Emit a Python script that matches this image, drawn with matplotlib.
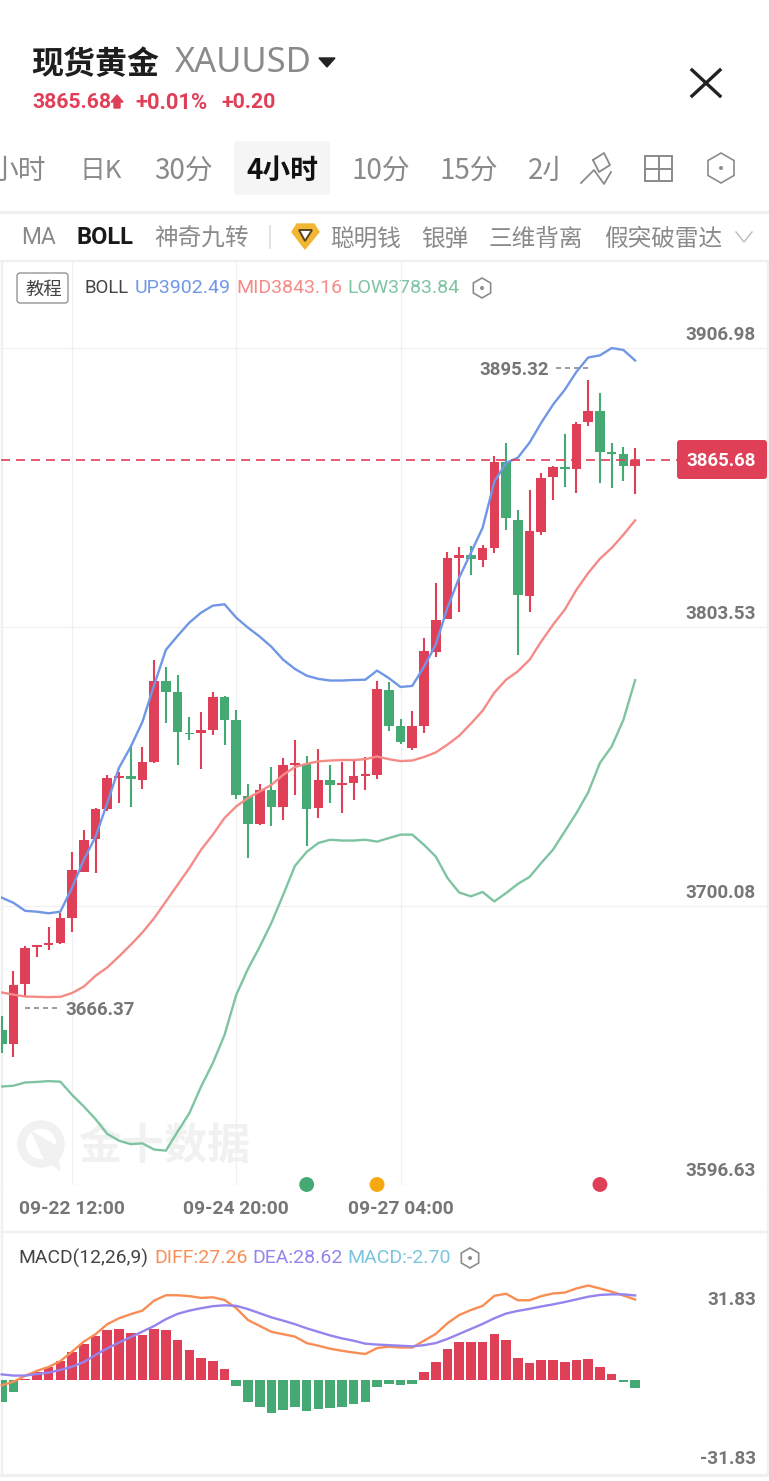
import matplotlib
matplotlib.use('Agg')
import matplotlib.pyplot as plt
from matplotlib.patches import Circle, FancyBboxPatch, Polygon, Rectangle, Wedge
from matplotlib.transforms import Bbox
import numpy as np

highs = [3659.3, 3676.0, 3685.2, 3685.6, 3692.2, 3697.4, 3720.0, 3728.4, 3736.4, 3748.8, 3749.6,
         3759.2, 3758.9, 3791.2, 3788.6, 3785.8, 3770.1, 3771.9, 3779.3, 3777.8, 3772.9, 3745.4,
         3745.4, 3751.6, 3755.0, 3761.7, 3755.8, 3758.3, 3752.3, 3753.3, 3753.9, 3755.3, 3783.7,
         3783.1, 3769.5, 3772.5, 3799.5, 3819.9, 3831.5, 3833.3, 3833.5, 3834.1, 3867.1, 3871.7,
         3847.1, 3854.5, 3860.7, 3863.2, 3875.3, 3879.7, 3895.32, 3890.6, 3872.0, 3870.4, 3870.0]
lows = [3645.5, 3643.9, 3666.37, 3681.0, 3683.8, 3685.9, 3690.2, 3712.6, 3712.4, 3735.3, 3738.4,
        3736.8, 3743.4, 3753.2, 3767.9, 3752.2, 3761.7, 3750.8, 3763.3, 3759.9, 3739.8, 3717.7,
        3730.1, 3729.8, 3731.9, 3741.3, 3722.4, 3732.5, 3738.2, 3734.7, 3739.3, 3743.2, 3747.2,
        3764.8, 3760.2, 3757.9, 3764.1, 3792.6, 3806.5, 3809.3, 3822.7, 3825.7, 3831.2, 3839.7,
        3793.3, 3809.1, 3837.9, 3850.8, 3855.7, 3853.4, 3878.0, 3857.2, 3855.2, 3857.6, 3852.9]
opens = [3654.1, 3648.8, 3671.0, 3684.8, 3685.7, 3686.2, 3695.5, 3712.8, 3724.9, 3736.1, 3747.7,
         3748.1, 3746.9, 3753.6, 3783.7, 3779.4, 3764.4, 3764.3, 3765.4, 3777.6, 3769.0, 3741.0,
         3730.3, 3743.2, 3736.8, 3752.3, 3752.6, 3736.4, 3746.8, 3744.9, 3745.7, 3748.2, 3748.8,
         3780.3, 3766.7, 3758.6, 3767.0, 3794.4, 3806.7, 3829.0, 3830.4, 3828.6, 3833.0, 3864.7,
         3843.1, 3815.2, 3838.8, 3859.1, 3862.9, 3862.2, 3879.5, 3883.7, 3868.3, 3867.8, 3863.5]
closes = [3648.9, 3670.8, 3684.5, 3685.3, 3686.3, 3695.5, 3713.3, 3724.6, 3736.1, 3747.7, 3748.2,
          3747.0, 3753.4, 3783.6, 3779.4, 3764.6, 3763.7, 3765.4, 3777.4, 3769.1, 3741.2, 3730.3,
          3743.2, 3736.8, 3752.3, 3753.1, 3736.1, 3746.6, 3745.0, 3745.6, 3748.1, 3748.8, 3780.4,
          3766.9, 3760.7, 3766.9, 3794.5, 3806.3, 3829.0, 3830.4, 3828.9, 3832.9, 3864.8, 3844.0,
          3815.4, 3839.2, 3859.0, 3863.1, 3862.2, 3879.1, 3883.7, 3868.5, 3867.8, 3863.5, 3865.68]

boll_up = [3703.1, 3701.2, 3698.2, 3697.9, 3697.3, 3697.9, 3706.8, 3717.2, 3725.7, 3738.3, 3751.3,
           3759.1, 3768.4, 3782.1, 3795.1, 3800.3, 3805.2, 3808.9, 3811.5, 3812.0, 3807.0, 3803.3,
           3800.0, 3796.2, 3791.4, 3788.0, 3785.5, 3784.3, 3783.7, 3783.7, 3783.9, 3784.0, 3787.4,
           3784.6, 3781.3, 3781.7, 3788.8, 3797.0, 3810.7, 3821.9, 3831.1, 3840.4, 3857.5, 3864.5,
           3866.4, 3872.0, 3879.4, 3886.1, 3891.6, 3898.3, 3903.6, 3904.4, 3907.1, 3906.4, 3902.49]
boll_mid = [3667.9, 3667.1, 3666.4, 3666.3, 3666.2, 3666.3, 3667.7, 3670.1, 3674.1, 3677.2, 3681.3,
            3685.6, 3690.2, 3695.5, 3701.7, 3707.9, 3714.1, 3720.9, 3726.5, 3732.7, 3737.0, 3740.1,
            3742.5, 3745.0, 3748.7, 3751.6, 3752.8, 3753.7, 3754.0, 3754.2, 3754.2, 3754.5, 3755.5,
            3754.5, 3753.8, 3754.0, 3755.3, 3757.0, 3759.9, 3763.2, 3767.7, 3772.5, 3779.2, 3784.0,
            3787.1, 3791.4, 3798.2, 3804.4, 3810.0, 3817.4, 3823.6, 3828.9, 3832.9, 3837.8, 3843.16]
boll_low = [3633.0, 3633.3, 3634.5, 3634.7, 3635.0, 3634.8, 3629.9, 3625.6, 3620.9, 3615.4, 3612.9,
            3611.6, 3611.9, 3609.6, 3609.2, 3616.3, 3623.1, 3633.0, 3641.7, 3652.2, 3667.1, 3676.7,
            3684.9, 3693.8, 3704.2, 3714.9, 3720.1, 3723.4, 3724.6, 3724.3, 3724.3, 3724.6, 3723.9,
            3725.2, 3726.5, 3726.5, 3722.7, 3718.4, 3710.4, 3705.0, 3703.6, 3705.2, 3701.7, 3704.8,
            3708.2, 3710.8, 3716.0, 3720.9, 3727.7, 3734.5, 3742.2, 3753.1, 3759.2, 3769.1, 3783.84]

macd_hist = [-7.6, -4.0, 0.3, 2.8, 4.4, 6.4, 9.6, 12.3, 14.8, 16.8, 17.2, 16.0, 15.1, 17.3, 16.9,
             13.6, 10.2, 7.5, 6.3, 3.8, -2.0, -7.5, -9.2, -11.1, -10.1, -9.2, -10.6, -9.9, -9.6,
             -9.0, -8.1, -7.3, -2.5, -1.5, -1.7, -1.2, 2.6, 6.1, 10.6, 12.8, 13.0, 12.7, 15.6, 13.6,
             7.5, 5.9, 6.7, 6.9, 6.1, 6.9, 7.2, 4.5, 2.0, -0.8, -2.7]
macd_diff = [-1.8, -0.6, 1.4, 3.1, 4.4, 6.4, 9.6, 13.0, 15.5, 18.9, 20.9, 22.3, 23.5, 26.9, 28.7,
             28.7, 28.4, 27.8, 28.0, 27.1, 24.3, 20.3, 18.3, 16.3, 15.5, 14.7, 12.5, 11.6, 10.6,
             9.9, 9.3, 8.8, 10.8, 11.3, 11.0, 11.0, 13.3, 15.6, 19.2, 22.0, 23.7, 25.1, 28.5, 29.2,
             27.0, 27.0, 28.4, 29.3, 29.6, 31.0, 32.0, 31.0, 29.9, 28.6, 27.26]
macd_dea = [1.9, 1.5, 1.5, 2.0, 2.5, 3.4, 4.5, 6.1, 8.5, 10.7, 12.7, 14.5, 16.4, 18.3, 20.6,
            22.4, 23.5, 24.3, 25.0, 25.3, 25.1, 24.0, 22.6, 21.2, 20.1, 18.9, 17.5, 16.3, 15.1,
            14.1, 13.3, 12.3, 12.0, 11.8, 11.6, 11.4, 11.8, 12.5, 13.9, 15.6, 17.3, 19.0, 20.9, 22.5,
            23.4, 24.1, 24.9, 25.6, 26.4, 27.3, 28.2, 28.8, 29.0, 29.0, 28.62]

price_ticks = [3906.98, 3803.53, 3700.08, 3596.63]
macd_ticks = [31.83, -31.83]
date_positions = [6, 20, 34]
date_labels = ['09-22 12:00', '09-24 20:00', '09-27 04:00']
signal_positions = [26, 32, 51]
last_price = 3865.68

RED = '#E03F58'
GREEN = '#45A974'
UP_BLUE = '#7097E6'
MID_RED = '#F58B87'
LOW_GREEN = '#7EC4A2'
DIFF_ORANGE = '#F98E55'
DEA_PURPLE = '#9584EE'
MACD_CYAN = '#79C5DE'
LINE_GREY = '#F0F0F0'
TEXT_GREY = '#8A8A8A'
AXIS_GREY = '#767676'
ROBOTO = ['Roboto', 'DejaVu Sans']
CJK = ['Noto Sans CJK SC', 'DejaVu Sans']

WIDTH, HEIGHT = 769, 1481
CANDLE_STEP = 11.73
CANDLE_ZERO = 1.7
PRICE_PER_PX = (price_ticks[0] - price_ticks[1])/278.7


def px_axes(fig, left, top, right, bottom, **kwargs):
    return fig.add_axes([left/WIDTH, 1 - bottom/HEIGHT, (right - left)/WIDTH, (bottom - top)/HEIGHT], **kwargs)


def px_to_index(x):
    return (x - CANDLE_ZERO)/CANDLE_STEP


def hexagon(ax, x, y, radius, color = '#8C8C8C'):
    angles = np.radians(np.arange(30, 390, 60))
    ax.add_patch(Polygon(np.column_stack([x + radius*np.cos(angles), y + radius*np.sin(angles)]),
                         closed = True, fill = False, edgecolor = color, linewidth = 1.2))
    ax.add_patch(Circle((x, y), 1.3, color = color))


fig = plt.figure(figsize = (WIDTH/100, HEIGHT/100), dpi = 100, facecolor = 'white')

# page furniture, in image pixels
ui = px_axes(fig, 0, 0, WIDTH, HEIGHT)
ui.set_xlim(0, WIDTH)
ui.set_ylim(HEIGHT, 0)
ui.axis('off')


def label(x, y, text, size, color, family = CJK, weight = 'normal', ha = 'left', **kwargs):
    return ui.text(x, y, text, fontsize = size, color = color, family = family, fontweight = weight,
                   ha = ha, va = 'center', **kwargs)


label(31, 65, '现货黄金', 23, '#1E1E1E', weight = 'bold')
label(175, 63, 'XAUUSD', 24.8, TEXT_GREY, family = ['Noto Sans', 'DejaVu Sans'])
ui.add_patch(Polygon([(319, 58), (335, 58), (327, 67)], closed = True, color = '#222222'))
label(32, 103, '3865.68', 15.3, RED, family = ROBOTO, weight = 'bold')
ui.add_patch(Polygon([(117, 95), (123, 102), (120, 102), (120, 108), (114, 108), (114, 102), (111, 102)],
                     closed = True, color = RED))
label(135, 103, '+0.01%', 15.8, RED, family = ROBOTO, weight = 'bold')
label(221, 103, '+0.20', 15.3, RED, family = ROBOTO, weight = 'bold')
ui.plot([692, 720], [70, 96], color = '#222222', linewidth = 2.4)
ui.plot([720, 692], [70, 96], color = '#222222', linewidth = 2.4)

ui.add_patch(FancyBboxPatch((236, 143), 92, 50, boxstyle = 'round,pad=2,rounding_size=4',
                            facecolor = '#F5F5F5', edgecolor = 'none'))
label(-10, 171, '小时', 20, TEXT_GREY)
label(79, 171, '日K', 18.5, TEXT_GREY)
label(154, 171, '30分', 20, TEXT_GREY)
label(246, 171, '4小时', 20, '#111111', weight = 'bold')
label(351, 171, '10分', 20, TEXT_GREY)
label(440, 171, '15分', 20, TEXT_GREY)
tab_clipped = label(528, 171, '2小时', 20, TEXT_GREY)
tab_clipped.set_clip_box(Bbox.from_extents(520, 0, 558, HEIGHT))
tab_clipped.set_clip_on(True)

ui.plot([593, 604, 610, 599, 593], [160, 153, 165, 172, 160], color = TEXT_GREY, linewidth = 1.3)
ui.plot([581, 594, 604, 611], [183, 170, 184, 172], color = TEXT_GREY, linewidth = 1.3)
ui.add_patch(Rectangle((645, 156), 27, 25, fill = False, edgecolor = TEXT_GREY, linewidth = 1.4))
ui.plot([658.5, 658.5], [156, 181], color = TEXT_GREY, linewidth = 1.4)
ui.plot([645, 672], [168.5, 168.5], color = TEXT_GREY, linewidth = 1.4)
hexagon(ui, 721, 168, 15)

ui.add_patch(Rectangle((0, 211), WIDTH, 2, color = LINE_GREY))
label(21, 237, 'MA', 16.4, TEXT_GREY, family = ROBOTO)
label(77, 237, 'BOLL', 17, '#1A1A1A', family = ROBOTO, weight = 'bold')
label(154, 239, '神奇九转', 17, TEXT_GREY)
ui.plot([270, 270], [226, 248], color = '#DDDDDD', linewidth = 1.2)
ui.add_patch(Polygon([(297, 224), (314, 224), (319, 232), (305, 249), (292, 232)], closed = True, color = '#F2B632'))
ui.add_patch(Polygon([(299, 230), (312, 230), (305, 241)], closed = True, facecolor = 'white',
                     edgecolor = '#5A4520', linewidth = 1.4))
label(330, 239, '聪明钱', 17, TEXT_GREY)
label(421, 239, '银弹', 17, TEXT_GREY)
label(488, 239, '三维背离', 17, TEXT_GREY)
label(604, 239, '假突破雷达', 17, TEXT_GREY)
ui.plot([736, 744, 752], [232, 242, 232], color = '#BBBBBB', linewidth = 1)

# panel frame and rules
ui.add_patch(Rectangle((0, 259.5), WIDTH, 1.5, color = LINE_GREY))
ui.add_patch(Rectangle((0, 1230.5), WIDTH, 1.5, color = LINE_GREY))
ui.add_patch(Rectangle((0, 1473.5), WIDTH, 2, color = LINE_GREY))
ui.add_patch(Rectangle((0.5, 260), 1.2, 1215, color = LINE_GREY))
ui.add_patch(Rectangle((766.5, 260), 1.2, 1215, color = LINE_GREY))

ui.add_patch(FancyBboxPatch((19, 275), 47, 26, boxstyle = 'round,pad=2,rounding_size=3',
                            facecolor = 'white', edgecolor = '#8A8A8A', linewidth = 0.9, zorder = 3))
label(25, 290, '教程', 13.2, '#444444', zorder = 4)
label(84, 288, 'BOLL', 13.4, '#444444', family = ROBOTO)
label(135, 288, 'UP3902.49', 14, UP_BLUE, family = ROBOTO)
label(236, 288, 'MID3843.16', 14, MID_RED, family = ROBOTO)
label(347, 288, 'LOW3783.84', 14, LOW_GREEN, family = ROBOTO)
hexagon(ui, 482, 288, 10)

label(18, 1258, 'MACD(12,26,9)', 13.9, '#444444', family = ROBOTO)
label(154, 1258, 'DIFF:27.26', 14, DIFF_ORANGE, family = ROBOTO)
label(252, 1258, 'DEA:28.62', 14, DEA_PURPLE, family = ROBOTO)
label(347, 1258, 'MACD:-2.70', 14, MACD_CYAN, family = ROBOTO)
hexagon(ui, 470, 1258, 10)

# watermark
label(78, 1147, '金十数据', 31, '#F1F1F1', weight = 'bold')
ui.add_patch(Wedge((41, 1144), 23, 0, 360, width = 7, color = '#F1F1F1'))
ui.add_patch(Polygon([(32, 1132), (56, 1146), (60, 1170), (44, 1158)], closed = True, color = '#F1F1F1'))

ui.add_patch(FancyBboxPatch((679, 442), 86, 35, boxstyle = 'round,pad=2,rounding_size=3',
                            facecolor = RED, edgecolor = 'none', zorder = 5))

# candle chart
x_limits = (px_to_index(1), px_to_index(767))
x = np.arange(len(closes))
opens_arr, closes_arr = np.array(opens), np.array(closes)
colors = [RED if c >= o else GREEN for o, c in zip(opens, closes)]

ax = px_axes(fig, 1, 260, 767, 1184.5, facecolor = 'none')
ax.set_xlim(*x_limits)
ax.set_ylim(price_ticks[-1], price_ticks[-1] + 924.5*PRICE_PER_PX)

for tick in price_ticks:
    ax.axhline(tick, color = LINE_GREY, linewidth = 0.9, zorder = 0)
    ax.annotate(f'{tick:.2f}', xy = (1, tick), xycoords = ax.get_yaxis_transform(), xytext = (-11, 13),
                textcoords = 'offset pixels', ha = 'right', va = 'center', fontsize = 13.6,
                color = AXIS_GREY, family = ROBOTO, fontweight = 'bold')
for pos in date_positions:
    ax.axvline(pos, color = LINE_GREY, linewidth = 0.9, zorder = 0)

ax.vlines(x, lows, highs, colors = colors, linewidth = 1.5, zorder = 2)
ax.bar(x, np.maximum(np.abs(closes_arr - opens_arr), 0.7), bottom = np.minimum(opens_arr, closes_arr),
       width = 0.82, color = colors, zorder = 2)

ax.plot(x, boll_up, color = UP_BLUE, linewidth = 1.7, zorder = 3)
ax.plot(x, boll_mid, color = MID_RED, linewidth = 1.7, zorder = 3)
ax.plot(x, boll_low, color = LOW_GREEN, linewidth = 1.7, zorder = 3)

ax.hlines(last_price, x_limits[0], px_to_index(677), color = RED, linewidth = 1.2,
          linestyle = (0, (5.4, 3.6)), zorder = 4)
ax.text(px_to_index(721), last_price - 1*PRICE_PER_PX, f'{last_price:.2f}', color = 'white', fontsize = 13.4,
        family = ROBOTO, fontweight = 'bold', ha = 'center', va = 'center', zorder = 6)

low_at = int(np.argmin(np.abs(np.array(lows) - 3666.37)))
high_at = int(np.argmax(highs))
low_y = lows[low_at] - 11*PRICE_PER_PX
high_y = highs[high_at] + 12*PRICE_PER_PX
ax.hlines(low_y, low_at, px_to_index(60), color = '#8A8A8A', linewidth = 1.2, linestyle = (0, (3, 2.4)))
ax.text(px_to_index(65), low_y - 2*PRICE_PER_PX, f'{lows[low_at]:.2f}', fontsize = 13.4, color = AXIS_GREY,
        family = ROBOTO, fontweight = 'bold', va = 'center', ha = 'left')
ax.hlines(high_y, px_to_index(556), high_at, color = '#8A8A8A', linewidth = 1.2, linestyle = (0, (3, 2.4)))
ax.text(px_to_index(549), high_y - 2*PRICE_PER_PX, f'{highs[high_at]:.2f}', fontsize = 13.4, color = AXIS_GREY,
        family = ROBOTO, fontweight = 'bold', va = 'center', ha = 'right')

ax.scatter(signal_positions, [price_ticks[-1]]*3, s = 115, color = [GREEN, '#F5A90F', RED],
           clip_on = False, zorder = 6, linewidths = 0)

ax.set_xticks(date_positions)
ax.set_xticklabels(date_labels, fontsize = 13.9, color = AXIS_GREY, family = ROBOTO, fontweight = 'bold')
ax.set_yticks([])
ax.tick_params(axis = 'x', length = 0, pad = 11)
for spine in ax.spines.values():
    spine.set_visible(False)

# MACD panel
ax_macd = px_axes(fig, 1, 1286, 767, 1474, facecolor = 'none')
ax_macd.set_xlim(*x_limits)
ax_macd.set_ylim(macd_ticks[1], macd_ticks[0])
ax_macd.bar(x, macd_hist, width = 0.82, color = [RED if v >= 0 else GREEN for v in macd_hist])
ax_macd.plot(x, macd_diff, color = DIFF_ORANGE, linewidth = 1.7, clip_on = False)
ax_macd.plot(x, macd_dea, color = DEA_PURPLE, linewidth = 1.7, clip_on = False)
for tick, offset in zip(macd_ticks, (-14, 15)):
    ax_macd.annotate(f'{tick:.2f}', xy = (1, tick), xycoords = ax_macd.get_yaxis_transform(),
                     xytext = (-11, offset), textcoords = 'offset pixels', ha = 'right', va = 'center',
                     fontsize = 13.6, color = AXIS_GREY, family = ROBOTO, fontweight = 'bold')
ax_macd.axis('off')

fig.savefig('out.png', dpi = 100)
